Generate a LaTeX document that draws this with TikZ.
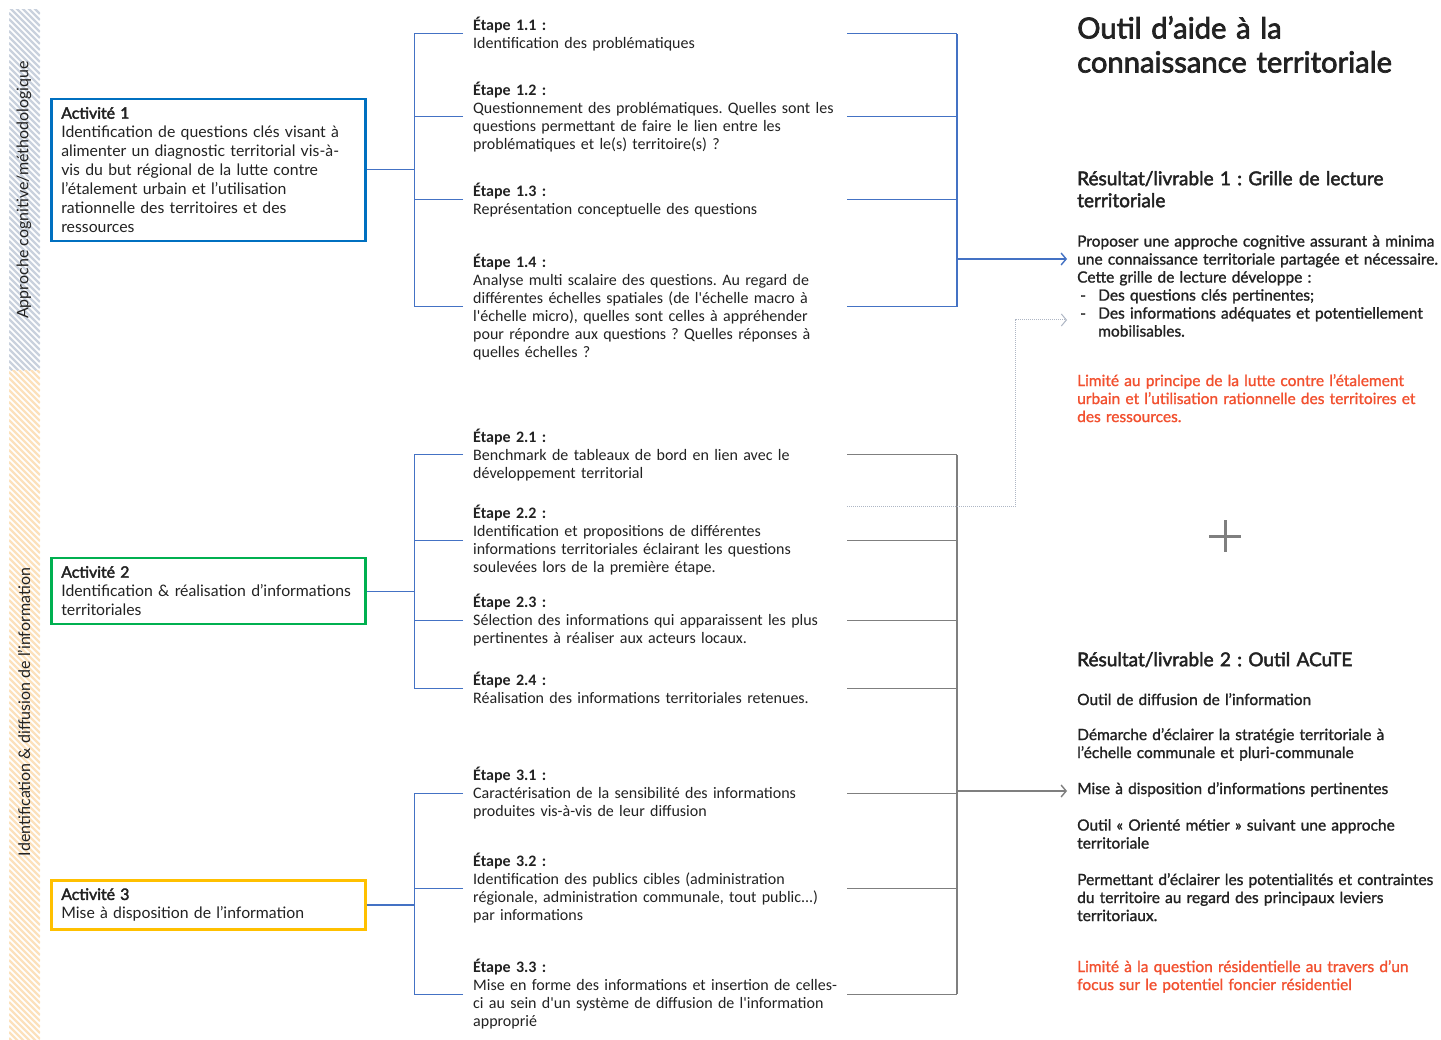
\documentclass[tikz,border=0pt]{standalone}
\usepackage{fontspec}
\setmainfont{Lato}
\newfontfamily\stepfont{Carlito}
\newfontfamily\latomed[FakeBold=1.2]{Lato}
\newfontfamily\latosemi[FakeBold=2.4]{Lato}
\usetikzlibrary{arrows.meta}
\definecolor{actblue}{HTML}{0070C0}
\definecolor{actgreen}{HTML}{00B050}
\definecolor{actyellow}{HTML}{FFC000}
\definecolor{linkblue}{HTML}{4472C4}
\definecolor{linkgray}{HTML}{7F7F7F}
\definecolor{dotgray}{HTML}{AEB6C4}
\definecolor{hatchblue}{HTML}{C9D1DD}
\definecolor{hatchorange}{HTML}{FCE1BC}
\definecolor{limitred}{HTML}{F2502F}
\definecolor{textdark}{HTML}{222222}

\tikzset{
  actbox/.style={draw=#1, line width=2.6pt, anchor=west, text width=294pt,
    inner xsep=10pt, inner ysep=8pt, align=left, text=textdark,
    font=\fontsize{15.8}{19}\selectfont},
  stepbox/.style={anchor=west, text width=380pt, inner xsep=10pt, inner ysep=0pt,
    align=left, text=textdark, font=\stepfont\fontsize{16}{18}\selectfont},
  restext/.style={anchor=north west, inner sep=0pt, align=left, text width=380pt,
    text=textdark, font=\latomed\fontsize{15.5}{18}\selectfont},
  reshead/.style={restext, font=\latosemi\fontsize{19}{22}\selectfont},
  bandtext/.style={rotate=90, text=textdark, font=\fontsize{16}{18}\selectfont},
  bluelink/.style={linkblue, line width=1pt},
  graylink/.style={linkgray, line width=1pt},
  arrowto/.style={-{Straight Barb[length=5pt,width=12pt]}}
}

\begin{document}
\frenchspacing
\begin{tikzpicture}[x=1pt,y=-1pt]
  \useasboundingbox[fill=white] (0,0) rectangle (1441,1040);

  % hatched side bands
  \begin{scope}
    \clip (9,10) rectangle (40,371);
    \foreach \k in {-35,-29,...,375}
      \draw[hatchblue,line width=2.2pt] (9,\k) -- ++(31,31);
  \end{scope}
  \begin{scope}
    \clip (9,371) rectangle (40,1040);
    \foreach \k in {336,342,...,1045}
      \draw[hatchorange,line width=2.2pt] (9,\k) -- ++(31,31);
  \end{scope}
  \node[bandtext] (band1) at (24,190) {Approche cognitive/méthodologique};
  \node[bandtext] (band2) at (24,712) {Identification \& diffusion de l’information};

  % activities
  \node[actbox=actblue] (act1) at (50,170) {{\latosemi Activité 1}\\Identification de questions clés visant à\\alimenter un diagnostic territorial vis-à-\\vis du but régional de la lutte contre\\l’étalement urbain et l’utilisation\\rationnelle des territoires et des\\ressources};
  \node[actbox=actgreen] (act2) at (50,591) {{\latosemi Activité 2}\\Identification \& réalisation d’informations\\territoriales};
  \node[actbox=actyellow] (act3) at (50,905) {{\latosemi Activité 3}\\Mise à disposition de l’information};

  % steps
  \node[stepbox] (s11) at (463,34) {\textbf{Étape 1.1 :}\\Identification des problématiques};
  \node[stepbox] (s12) at (463,117) {\textbf{Étape 1.2 :}\\Questionnement des problématiques. Quelles sont les\\questions permettant de faire le lien entre les\\problématiques et le(s) territoire(s) ?};
  \node[stepbox] (s13) at (463,200) {\textbf{Étape 1.3 :}\\Représentation conceptuelle des questions};
  \node[stepbox] (s14) at (463,307) {\textbf{Étape 1.4 :}\\Analyse multi scalaire des questions. Au regard de\\différentes échelles spatiales (de l'échelle macro à\\l'échelle micro), quelles sont celles à appréhender\\pour répondre aux questions ? Quelles réponses à\\quelles échelles ?};
  \node[stepbox] (s21) at (463,455) {\textbf{Étape 2.1 :}\\Benchmark de tableaux de bord en lien avec le\\développement territorial};
  \node[stepbox] (s22) at (463,540) {\textbf{Étape 2.2 :}\\Identification et propositions de différentes\\informations territoriales éclairant les questions\\soulevées lors de la première étape.};
  \node[stepbox] (s23) at (463,620) {\textbf{Étape 2.3 :}\\Sélection des informations qui apparaissent les plus\\pertinentes à réaliser aux acteurs locaux.};
  \node[stepbox] (s24) at (463,688) {\textbf{Étape 2.4 :}\\Réalisation des informations territoriales retenues.};
  \node[stepbox] (s31) at (463,793) {\textbf{Étape 3.1 :}\\Caractérisation de la sensibilité des informations\\produites vis-à-vis de leur diffusion};
  \node[stepbox] (s32) at (463,888) {\textbf{Étape 3.2 :}\\Identification des publics cibles (administration\\régionale, administration communale, tout public...)\\par informations};
  \node[stepbox] (s33) at (463,994) {\textbf{Étape 3.3 :}\\Mise en forme des informations et insertion de celles-\\ci au sein d'un système de diffusion de l'information\\approprié};

  % results
  \node[restext,font=\latosemi\fontsize{29.2}{34}\selectfont] (title) at (1077,16) {Outil d’aide à la\\connaissance territoriale};
  \node[reshead] (res1) at (1077,171) {Résultat/livrable 1 : Grille de lecture\\territoriale};
  \node[restext] (res1txt) at (1077,235) {Proposer une approche cognitive assurant à minima\\une connaissance territoriale partagée et nécessaire.\\Cette grille de lecture développe :\\\makebox[21pt][l]{\hspace{3pt}-}Des questions clés pertinentes;\\\makebox[21pt][l]{\hspace{3pt}-}Des informations adéquates et potentiellement\\\hspace*{21pt}mobilisables.};
  \node[restext,text=limitred] (lim1) at (1077,374) {Limité au principe de la lutte contre l’étalement\\urbain et l’utilisation rationnelle des territoires et\\des ressources.};
  \node[reshead] (res2) at (1077,652) {Résultat/livrable 2 : Outil ACuTE};
  \node[restext] (r2a) at (1077,693) {Outil de diffusion de l’information};
  \node[restext] (r2b) at (1077,728) {Démarche d’éclairer la stratégie territoriale à\\l’échelle communale et pluri-communale};
  \node[restext] (r2c) at (1077,782) {Mise à disposition d’informations pertinentes};
  \node[restext] (r2d) at (1077,819) {Outil «~Orienté métier~» suivant une approche\\territoriale};
  \node[restext] (r2e) at (1077,873) {Permettant d’éclairer les potentialités et contraintes\\du territoire au regard des principaux leviers\\territoriaux.};
  \node[restext,text=limitred] (lim2) at (1077,960) {Limité à la question résidentielle au travers d’un\\focus sur le potentiel foncier résidentiel};
  \draw[linkgray,line width=3pt] (1209,536) -- (1241,536) (1225,520) -- (1225,552);

  % bracket positions and arrow ends
  \coordinate (lb) at (414,0);
  \coordinate (rb) at (957,0);
  \coordinate (res1in) at (1067,259);
  \coordinate (dotbend) at (1015,320);
  \coordinate (dotin) at (1067,320);
  \coordinate (res2in) at (1067,791);

  % left brackets
  \draw[bluelink] (act1.east) -- (act1.east -| lb);
  \draw[bluelink] (act2.east) -- (act2.east -| lb);
  \draw[bluelink,line width=1.6pt] (act3.east) -- (act3.east -| lb);
  \draw[bluelink] (s11.west -| lb) -- (s14.west -| lb);
  \draw[bluelink] (s21.west -| lb) -- (s24.west -| lb);
  \draw[bluelink] (s31.west -| lb) -- (s33.west -| lb);
  \foreach \s in {s11,s12,s13,s14,s21,s22,s23,s24,s31,s32,s33}
    \draw[bluelink] (\s.west) -- (\s.west -| lb);

  % right brackets (stubs start 384pt right of the step's west side)
  \foreach \s in {s11,s12,s13,s14}
    \draw[bluelink] ([xshift=384pt]\s.west) -- (\s.west -| rb);
  \draw[bluelink,line width=1.4pt] (s11.west -| rb) -- (s14.west -| rb);
  \draw[bluelink,line width=1.4pt,arrowto] (res1in -| rb) -- (res1in);
  \foreach \s in {s21,s22,s23,s24,s31,s32,s33}
    \draw[graylink] ([xshift=384pt]\s.west) -- (\s.west -| rb);
  \draw[graylink,line width=1.4pt] (s21.west -| rb) -- (s33.west -| rb);
  \draw[graylink,line width=1.4pt,arrowto] (res2in -| rb) -- (res2in);
  \draw[dotgray,densely dotted,line width=1pt,arrowto] ([xshift=384pt,yshift=-2pt]s22.north west) -| (dotbend) -- (dotin);
\end{tikzpicture}
\end{document}
